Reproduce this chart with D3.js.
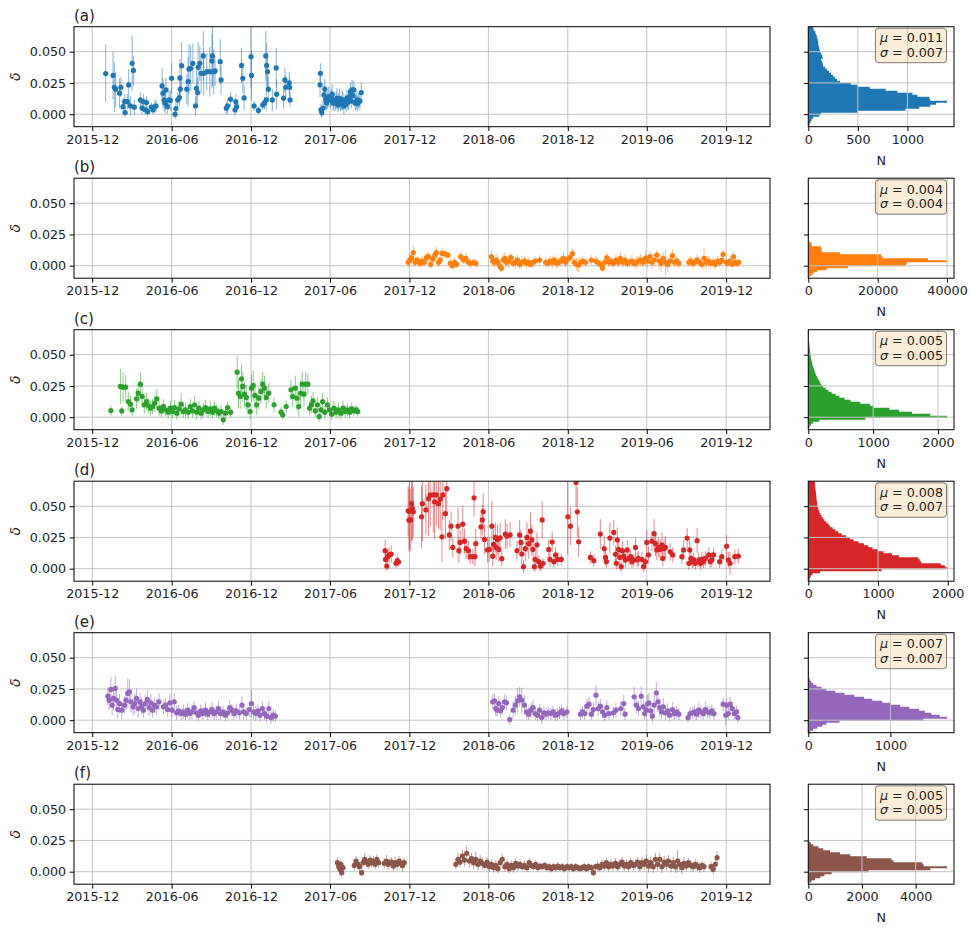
<!DOCTYPE html>
<html>
<head>
<meta charset="utf-8">
<script src="https://cdn.jsdelivr.net/npm/d3@7"></script>
<style>
  body { margin: 0; background: #fff; }
  text { font-family: "DejaVu Sans", sans-serif; }
</style>
</head>
<body>
<div id="chart"></div>
<script>
// ---- data ----
var panelLabels = ['(a)', '(b)', '(c)', '(d)', '(e)', '(f)'];
var colors = ['#1f77b4', '#ff7f0e', '#2ca02c', '#d62728', '#9467bd', '#8c564b'];
var dateTicks = ['2015-12', '2016-06', '2016-12', '2017-06', '2017-12', '2018-06', '2018-12', '2019-06', '2019-12'];
var yTicks = [0, 0.025, 0.05];

// [date, delta, error]
var seriesA = [
  ['2016-01-01',0.0325,0.023],['2016-01-18',0.031,0.019],['2016-01-21',0.0215,0.02],['2016-01-24',0.020,0.014],
  ['2016-02-02',0.0168,0.012],['2016-02-05',0.0215,0.008],['2016-02-10',0.006,0.007],['2016-02-14',0.010,0.006],
  ['2016-02-15',0.0013,0.004],['2016-02-20',0.010,0.006],['2016-02-23',0.0234,0.013],['2016-02-27',0.0066,0.008],
  ['2016-03-02',0.0407,0.022],['2016-03-05',0.035,0.012],['2016-03-07',0.0056,0.006],['2016-03-21',0.0114,0.006],
  ['2016-03-25',0.0048,0.005],['2016-03-28',0.010,0.006],['2016-04-01',0.0035,0.004],['2016-04-04',0.0093,0.005],
  ['2016-04-07',0.002,0.004],['2016-04-15',0.0056,0.004],['2016-04-19',0.0035,0.004],['2016-04-23',0.006,0.005],
  ['2016-04-26',0.0066,0.005],['2016-05-10',0.0226,0.014],['2016-05-12',0.0168,0.012],['2016-05-15',0.0114,0.009],
  ['2016-05-17',0.0088,0.008],['2016-05-19',0.0194,0.01],['2016-05-22',0.006,0.006],['2016-05-26',0.0114,0.007],
  ['2016-05-29',0.011,0.008],['2016-06-01',0.0287,0.012],['2016-06-09',0.0,0.004],['2016-06-11',0.0045,0.005],
  ['2016-06-15',0.0114,0.006],['2016-06-19',0.0133,0.007],['2016-06-20',0.029,0.015],['2016-06-21',0.020,0.01],
  ['2016-06-24',0.0388,0.019],['2016-07-06',0.020,0.012],['2016-07-09',0.026,0.02],['2016-07-11',0.036,0.02],
  ['2016-07-15',0.0367,0.018],['2016-07-20',0.0407,0.016],['2016-07-26',0.0066,0.008],['2016-07-28',0.0207,0.015],
  ['2016-07-31',0.0173,0.012],['2016-08-01',0.0375,0.02],['2016-08-05',0.0407,0.014],['2016-08-08',0.0327,0.016],
  ['2016-08-13',0.0466,0.02],['2016-08-14',0.0327,0.018],['2016-08-21',0.034,0.015],['2016-08-28',0.034,0.02],
  ['2016-09-02',0.0426,0.022],['2016-09-03',0.0466,0.024],['2016-09-06',0.034,0.018],['2016-09-09',0.0346,0.012],
  ['2016-09-21',0.042,0.018],['2016-09-23',0.0274,0.012],['2016-10-05',0.0048,0.005],['2016-10-08',0.0066,0.006],
  ['2016-10-15',0.012,0.006],['2016-10-25',0.0035,0.005],['2016-10-27',0.010,0.006],['2016-10-29',0.006,0.005],
  ['2016-11-09',0.039,0.014],['2016-11-12',0.0287,0.012],['2016-11-15',0.013,0.01],['2016-12-01',0.046,0.025],
  ['2016-12-02',0.031,0.02],['2016-12-08',0.0066,0.004],['2016-12-18',0.003,0.003],['2016-12-28',0.0074,0.004],
  ['2017-01-01',0.0088,0.005],['2017-01-04',0.0466,0.02],['2017-01-05',0.0114,0.008],['2017-01-06',0.039,0.018],
  ['2017-01-08',0.034,0.015],['2017-01-10',0.020,0.01],['2017-01-19',0.0114,0.009],['2017-01-28',0.037,0.016],
  ['2017-01-29',0.016,0.012],['2017-02-14',0.0128,0.008],['2017-02-17',0.0274,0.01],['2017-02-19',0.0215,0.01],
  ['2017-02-27',0.025,0.009],['2017-02-28',0.0215,0.008],['2017-03-01',0.0114,0.006],['2017-05-09',0.0234,0.01],
  ['2017-05-10',0.0327,0.008],['2017-05-11',0.0035,0.005],['2017-05-13',0.0013,0.004],['2017-05-16',0.0048,0.006],
  ['2017-05-18',0.0154,0.008],['2017-05-20',0.020,0.008],['2017-05-22',0.012,0.007],['2017-05-24',0.009,0.006],
  ['2017-05-26',0.0114,0.007],['2017-05-29',0.014,0.008],['2017-06-02',0.0114,0.007],['2017-06-04',0.013,0.007],
  ['2017-06-06',0.016,0.008],['2017-06-08',0.009,0.006],['2017-06-10',0.010,0.007],['2017-06-13',0.0088,0.006],
  ['2017-06-15',0.011,0.007],['2017-06-17',0.0128,0.008],['2017-06-19',0.0075,0.006],['2017-06-21',0.010,0.007],
  ['2017-06-23',0.0125,0.008],['2017-06-25',0.0082,0.006],['2017-06-27',0.009,0.006],['2017-06-29',0.0114,0.008],
  ['2017-07-01',0.0105,0.007],['2017-07-03',0.0066,0.007],['2017-07-06',0.010,0.006],['2017-07-08',0.008,0.006],
  ['2017-07-10',0.0128,0.007],['2017-07-12',0.0095,0.006],['2017-07-14',0.0114,0.008],['2017-07-16',0.014,0.007],
  ['2017-07-18',0.018,0.007],['2017-07-20',0.0105,0.006],['2017-07-22',0.0194,0.008],['2017-07-24',0.015,0.007],
  ['2017-07-26',0.0194,0.007],['2017-07-29',0.0088,0.006],['2017-07-31',0.0095,0.006],['2017-08-02',0.0114,0.007],
  ['2017-08-04',0.0085,0.006],['2017-08-06',0.011,0.006],['2017-08-09',0.0105,0.007],['2017-08-12',0.0173,0.008]
];

var seriesB = [
  ['2017-11-28',0.0027,0.004],['2017-12-02',0.0045,0.005],['2017-12-06',0.0064,0.004],['2017-12-10',0.0104,0.006],
  ['2017-12-14',0.0027,0.004],['2017-12-18',0.0045,0.003],['2017-12-22',0.0032,0.004],['2017-12-26',0.0019,0.003],
  ['2017-12-30',0.0037,0.004],['2018-01-04',0.0027,0.003],['2018-01-09',0.0064,0.004],['2018-01-14',0.0072,0.004],
  ['2018-01-19',0.0011,0.003],['2018-01-24',0.0053,0.004],['2018-01-29',0.0085,0.004],['2018-02-01',0.0104,0.005],
  ['2018-02-06',0.0027,0.004],['2018-02-10',0.0045,0.003],['2018-02-14',0.0099,0.004],['2018-02-18',0.0096,0.003],
  ['2018-02-23',0.0091,0.004],['2018-02-28',0.0085,0.003],['2018-03-05',0.0019,0.004],['2018-03-10',0.0,0.003],
  ['2018-03-15',0.0027,0.004],['2018-03-20',0.0011,0.003],['2018-03-29',0.0072,0.004],['2018-04-05',0.0045,0.003],
  ['2018-04-10',0.0059,0.004],['2018-04-16',0.0027,0.003],['2018-04-21',0.0019,0.004],['2018-04-28',0.0027,0.003],
  ['2018-05-03',0.0019,0.004],['2018-06-08',0.0072,0.005],['2018-06-11',0.0037,0.004],['2018-06-15',0.0027,0.004],
  ['2018-06-19',0.0045,0.005],['2018-06-23',0.0027,0.004],['2018-06-28',-0.0008,0.004],['2018-07-01',-0.002,0.003],
  ['2018-07-05',0.0045,0.004],['2018-07-09',0.0059,0.005],['2018-07-13',0.0027,0.004],['2018-07-18',0.0037,0.005],
  ['2018-07-23',0.0064,0.004],['2018-07-28',0.0019,0.004],['2018-08-02',0.0027,0.005],['2018-08-07',0.0045,0.004],
  ['2018-08-12',0.0011,0.004],['2018-08-17',0.0027,0.005],['2018-08-23',0.0037,0.004],['2018-08-28',0.0019,0.004],
  ['2018-09-02',0.0027,0.004],['2018-09-07',0.0011,0.003],['2018-09-12',0.0027,0.004],['2018-09-17',0.0037,0.004],
  ['2018-09-27',0.0045,0.004],['2018-10-11',0.0027,0.004],['2018-10-16',0.0019,0.004],['2018-10-21',0.0037,0.004],
  ['2018-10-26',0.0027,0.005],['2018-10-31',0.0045,0.004],['2018-11-05',0.0019,0.004],['2018-11-10',0.0027,0.004],
  ['2018-11-15',0.0037,0.004],['2018-11-21',0.0059,0.005],['2018-11-26',0.0027,0.004],['2018-12-01',0.0053,0.004],
  ['2018-12-06',0.0064,0.005],['2018-12-12',0.0096,0.004],['2018-12-16',0.0027,0.004],['2018-12-21',0.0011,0.005],
  ['2018-12-26',0.0005,0.006],['2018-12-31',0.0027,0.004],['2019-01-05',0.0037,0.004],['2019-01-11',0.0027,0.004],
  ['2019-01-24',0.0045,0.004],['2019-02-03',0.0037,0.004],['2019-02-08',0.0027,0.004],['2019-02-14',0.0011,0.004],
  ['2019-02-19',-0.002,0.003],['2019-02-24',0.0027,0.004],['2019-03-01',0.0064,0.004],['2019-03-06',0.0027,0.004],
  ['2019-03-11',0.0037,0.004],['2019-03-16',0.0019,0.004],['2019-03-22',0.0045,0.004],['2019-03-27',0.0027,0.004],
  ['2019-04-01',0.0059,0.005],['2019-04-07',0.0027,0.004],['2019-04-12',0.0045,0.005],['2019-04-17',0.0019,0.004],
  ['2019-04-22',0.0027,0.004],['2019-04-28',0.0037,0.005],['2019-05-03',0.0019,0.004],['2019-05-08',0.0027,0.005],
  ['2019-05-13',0.0037,0.004],['2019-05-18',0.0045,0.005],['2019-05-23',0.0027,0.004],['2019-05-29',0.0059,0.006],
  ['2019-06-03',0.0037,0.005],['2019-06-08',0.0072,0.005],['2019-06-13',0.0027,0.006],['2019-06-18',0.0045,0.005],
  ['2019-06-24',0.0085,0.004],['2019-06-29',0.0037,0.006],['2019-07-04',0.0019,0.007],['2019-07-09',0.0059,0.005],
  ['2019-07-14',0.0027,0.01],['2019-07-19',0.0011,0.006],['2019-07-25',0.0037,0.005],['2019-07-30',0.008,0.005],
  ['2019-08-04',0.0027,0.004],['2019-08-09',0.0037,0.004],['2019-08-14',0.0019,0.004],['2019-09-06',0.0027,0.004],
  ['2019-09-10',0.0037,0.004],['2019-09-15',0.0019,0.004],['2019-09-20',0.0027,0.004],['2019-09-25',0.0045,0.004],
  ['2019-10-01',0.0027,0.004],['2019-10-06',0.0011,0.004],['2019-10-11',0.0059,0.008],['2019-10-16',0.0027,0.005],
  ['2019-10-21',0.0037,0.004],['2019-10-26',0.0019,0.004],['2019-11-01',0.0027,0.004],['2019-11-06',0.0011,0.004],
  ['2019-11-11',0.0037,0.004],['2019-11-16',0.0027,0.004],['2019-11-21',0.0045,0.004],['2019-11-24',0.0091,0.004],
  ['2019-12-01',0.0027,0.004],['2019-12-05',0.0019,0.003],['2019-12-10',0.0037,0.004],['2019-12-15',0.0011,0.003],
  ['2019-12-18',0.0072,0.004],['2019-12-22',0.0027,0.003],['2019-12-26',0.0019,0.003],['2019-12-30',0.0027,0.003]
];

var seriesC = [
  ['2016-01-13',0.0053,0.004],['2016-02-04',0.0246,0.014],['2016-02-07',0.005,0.004],['2016-02-10',0.024,0.012],
  ['2016-02-16',0.024,0.01],['2016-02-22',0.0125,0.008],['2016-02-27',0.0104,0.007],['2016-03-02',0.0059,0.005],
  ['2016-03-12',0.0147,0.008],['2016-03-16',0.0192,0.008],['2016-03-21',0.0264,0.01],['2016-03-25',0.0166,0.009],
  ['2016-03-30',0.0099,0.007],['2016-04-04',0.0125,0.007],['2016-04-09',0.0091,0.006],['2016-04-13',0.0072,0.006],
  ['2016-04-18',0.0085,0.006],['2016-04-23',0.0112,0.007],['2016-04-28',0.0147,0.008],['2016-05-03',0.0072,0.006],
  ['2016-05-08',0.005,0.005],['2016-05-13',0.0085,0.006],['2016-05-18',0.0059,0.005],['2016-05-24',0.004,0.005],
  ['2016-05-29',0.0072,0.006],['2016-06-03',0.0045,0.005],['2016-06-08',0.0077,0.006],['2016-06-13',0.0032,0.005],
  ['2016-06-18',0.0067,0.006],['2016-06-23',0.0104,0.009],['2016-06-28',0.0045,0.005],['2016-07-03',0.0059,0.006],
  ['2016-07-09',0.004,0.005],['2016-07-14',0.0085,0.006],['2016-07-19',0.005,0.005],['2016-07-24',0.0099,0.007],
  ['2016-07-29',0.004,0.006],['2016-08-03',0.0072,0.006],['2016-08-08',0.0032,0.005],['2016-08-13',0.0059,0.006],
  ['2016-08-18',0.0077,0.006],['2016-08-24',0.0045,0.005],['2016-08-29',0.0067,0.006],['2016-09-03',0.004,0.005],
  ['2016-09-08',0.0072,0.006],['2016-09-13',0.005,0.005],['2016-09-18',0.0032,0.005],['2016-09-23',0.0045,0.005],
  ['2016-09-28',-0.0021,0.004],['2016-10-03',0.0032,0.004],['2016-10-08',0.0077,0.005],['2016-10-15',0.004,0.004],
  ['2016-10-30',0.036,0.013],['2016-11-02',0.0192,0.012],['2016-11-06',0.0166,0.01],['2016-11-09',0.0307,0.012],
  ['2016-11-12',0.0246,0.012],['2016-11-16',0.0184,0.01],['2016-11-20',0.0158,0.01],['2016-11-24',0.0099,0.008],
  ['2016-11-29',0.0045,0.006],['2016-12-02',0.0232,0.011],['2016-12-06',0.0254,0.012],['2016-12-10',0.0174,0.01],
  ['2016-12-14',0.0099,0.008],['2016-12-19',0.0152,0.009],['2016-12-24',0.0206,0.01],['2016-12-28',0.0264,0.01],
  ['2017-01-01',0.0232,0.01],['2017-01-05',0.0158,0.009],['2017-01-11',0.0192,0.008],['2017-01-23',0.0099,0.006],
  ['2017-02-08',0.004,0.004],['2017-02-12',0.0019,0.004],['2017-02-20',0.0085,0.005],['2017-03-03',0.0219,0.008],
  ['2017-03-07',0.0166,0.008],['2017-03-13',0.0232,0.01],['2017-03-17',0.0152,0.01],['2017-03-21',0.0085,0.008],
  ['2017-03-25',0.0192,0.01],['2017-03-29',0.0264,0.01],['2017-04-02',0.0184,0.01],['2017-04-06',0.0264,0.01],
  ['2017-04-11',0.0264,0.008],['2017-04-15',0.0072,0.006],['2017-04-19',0.0099,0.007],['2017-04-23',0.0131,0.007],
  ['2017-04-28',0.005,0.005],['2017-05-03',0.0099,0.006],['2017-05-07',0.0005,0.004],['2017-05-11',0.0059,0.005],
  ['2017-05-15',0.0125,0.007],['2017-05-20',0.004,0.005],['2017-05-26',0.0099,0.006],['2017-05-31',0.0059,0.005],
  ['2017-06-05',0.0024,0.005],['2017-06-10',0.0072,0.006],['2017-06-15',0.004,0.005],['2017-06-20',0.0059,0.006],
  ['2017-06-26',0.0032,0.005],['2017-07-01',0.0072,0.006],['2017-07-06',0.0045,0.005],['2017-07-11',0.0059,0.005],
  ['2017-07-16',0.004,0.005],['2017-07-21',0.0067,0.005],['2017-07-26',0.005,0.004],['2017-07-31',0.0059,0.004],
  ['2017-08-04',0.0045,0.004]
];

var seriesD = [
  ['2017-10-06',0.0144,0.009],['2017-10-07',0.0074,0.006],['2017-10-10',0.002,0.004],['2017-10-12',0.0096,0.006],
  ['2017-10-15',0.011,0.006],['2017-10-20',0.0117,0.007],['2017-10-31',0.0043,0.004],['2017-11-03',0.0064,0.004],
  ['2017-11-06',0.0053,0.004],['2017-11-28',0.0463,0.02],['2017-11-30',0.0388,0.025],['2017-12-01',0.046,0.03],
  ['2017-12-04',0.039,0.025],['2017-12-06',0.052,0.03],['2017-12-08',0.048,0.025],['2017-12-10',0.0455,0.02],
  ['2017-12-29',0.0415,0.025],['2017-12-31',0.052,0.03],['2018-01-08',0.047,0.02],['2018-01-14',0.056,0.03],
  ['2018-01-18',0.059,0.025],['2018-01-25',0.059,0.03],['2018-01-28',0.0535,0.03],['2018-02-01',0.059,0.025],
  ['2018-02-06',0.052,0.02],['2018-02-10',0.0556,0.025],['2018-02-14',0.0255,0.02],['2018-02-16',0.059,0.02],
  ['2018-02-22',0.044,0.02],['2018-02-25',0.064,0.02],['2018-03-03',0.027,0.012],['2018-03-07',0.034,0.012],
  ['2018-03-11',0.017,0.008],['2018-03-23',0.034,0.015],['2018-03-25',0.0144,0.01],['2018-03-28',0.021,0.01],
  ['2018-04-03',0.0356,0.015],['2018-04-07',0.022,0.01],['2018-04-11',0.016,0.008],['2018-04-16',0.0144,0.008],
  ['2018-04-20',0.0096,0.006],['2018-04-26',0.0096,0.006],['2018-04-29',0.0567,0.015],['2018-05-01',0.0096,0.008],
  ['2018-05-03',0.020,0.012],['2018-05-15',0.0335,0.01],['2018-05-18',0.039,0.012],['2018-05-20',0.0455,0.015],
  ['2018-05-23',0.0234,0.012],['2018-05-30',0.015,0.01],['2018-06-03',0.0154,0.01],['2018-06-09',0.034,0.02],
  ['2018-06-11',0.010,0.008],['2018-06-13',0.0194,0.012],['2018-06-17',0.025,0.012],['2018-06-19',0.017,0.01],
  ['2018-06-22',0.0234,0.012],['2018-06-25',0.0154,0.01],['2018-06-28',0.0247,0.012],['2018-07-02',0.008,0.006],
  ['2018-07-10',0.0277,0.012],['2018-07-14',0.026,0.01],['2018-07-21',0.027,0.01],['2018-08-06',0.0144,0.008],
  ['2018-08-12',0.027,0.012],['2018-08-15',0.021,0.01],['2018-08-17',0.0117,0.008],['2018-08-21',0.0016,0.005],
  ['2018-08-25',0.016,0.01],['2018-08-29',0.025,0.012],['2018-09-02',0.020,0.012],['2018-09-06',0.030,0.015],
  ['2018-09-09',0.023,0.012],['2018-09-12',0.0154,0.01],['2018-09-15',0.0016,0.004],['2018-09-17',0.0074,0.006],
  ['2018-09-21',0.019,0.01],['2018-09-25',0.0056,0.005],['2018-09-29',0.002,0.004],['2018-10-03',0.039,0.015],
  ['2018-10-05',0.0043,0.004],['2018-10-18',0.0154,0.008],['2018-10-21',0.0074,0.006],['2018-10-26',0.0213,0.008],
  ['2018-10-30',0.0056,0.005],['2018-11-03',0.011,0.006],['2018-11-08',0.0074,0.005],['2018-11-16',0.0074,0.005],
  ['2018-12-01',0.0415,0.03],['2018-12-07',0.034,0.015],['2018-12-20',0.069,0.02],['2018-12-23',0.0455,0.02],
  ['2018-12-26',0.0215,0.012],['2019-01-22',0.009,0.005],['2019-01-30',0.0064,0.005],['2019-02-14',0.0277,0.012],
  ['2019-02-23',0.016,0.01],['2019-02-26',0.009,0.006],['2019-02-28',0.0056,0.005],['2019-03-08',0.0245,0.012],
  ['2019-03-17',0.029,0.01],['2019-03-21',0.0115,0.007],['2019-03-23',0.0043,0.005],['2019-03-25',0.023,0.01],
  ['2019-03-28',0.0154,0.008],['2019-03-31',0.009,0.006],['2019-04-03',0.0016,0.004],['2019-04-06',0.0144,0.008],
  ['2019-04-09',0.010,0.006],['2019-04-13',0.007,0.006],['2019-04-17',0.015,0.008],['2019-04-21',0.0082,0.006],
  ['2019-04-25',0.0096,0.006],['2019-04-28',0.0056,0.005],['2019-05-02',0.007,0.005],['2019-05-06',0.017,0.008],
  ['2019-05-10',0.007,0.006],['2019-05-13',0.0082,0.006],['2019-05-21',0.0074,0.006],['2019-05-25',0.0016,0.004],
  ['2019-05-29',0.0056,0.005],['2019-06-01',0.021,0.01],['2019-06-05',0.011,0.007],['2019-06-13',0.022,0.008],
  ['2019-06-18',0.028,0.012],['2019-06-21',0.020,0.01],['2019-06-24',0.015,0.008],['2019-06-28',0.017,0.008],
  ['2019-07-02',0.0154,0.008],['2019-07-06',0.019,0.01],['2019-07-08',0.0082,0.006],['2019-07-11',0.016,0.008],
  ['2019-07-14',0.017,0.009],['2019-07-25',0.0135,0.007],['2019-07-31',0.011,0.006],['2019-08-21',0.0096,0.006],
  ['2019-08-25',0.015,0.008],['2019-09-02',0.0245,0.008],['2019-09-06',0.0043,0.005],['2019-09-08',0.015,0.008],
  ['2019-09-11',0.0082,0.006],['2019-09-14',0.0056,0.005],['2019-09-17',0.007,0.006],['2019-09-21',0.0043,0.005],
  ['2019-09-25',0.0224,0.01],['2019-09-29',0.007,0.006],['2019-10-03',0.0043,0.005],['2019-10-06',0.0074,0.006],
  ['2019-10-10',0.0056,0.005],['2019-10-14',0.0082,0.006],['2019-10-22',0.011,0.006],['2019-10-25',0.0056,0.005],
  ['2019-10-29',0.007,0.006],['2019-11-02',0.011,0.006],['2019-11-16',0.0056,0.005],['2019-11-21',0.0096,0.006],
  ['2019-12-02',0.018,0.009],['2019-12-06',0.007,0.006],['2019-12-10',0.0043,0.009],['2019-12-21',0.0096,0.006],
  ['2019-12-29',0.010,0.006]
];

var seriesE = [
  ['2016-01-06',0.0192,0.007],['2016-01-09',0.016,0.008],['2016-01-13',0.0246,0.01],['2016-01-16',0.012,0.008],
  ['2016-01-19',0.0174,0.009],['2016-01-23',0.0254,0.01],['2016-01-26',0.016,0.008],['2016-01-29',0.0085,0.007],
  ['2016-02-02',0.0133,0.008],['2016-02-07',0.008,0.007],['2016-02-13',0.012,0.007],['2016-02-17',0.016,0.008],
  ['2016-02-21',0.0214,0.012],['2016-02-25',0.0227,0.01],['2016-02-28',0.0147,0.008],['2016-03-04',0.0107,0.007],
  ['2016-03-08',0.0133,0.008],['2016-03-12',0.0174,0.008],['2016-03-16',0.0093,0.007],['2016-03-20',0.0147,0.007],
  ['2016-03-24',0.0112,0.007],['2016-03-28',0.008,0.006],['2016-04-01',0.0133,0.007],['2016-04-06',0.0166,0.007],
  ['2016-04-10',0.0101,0.007],['2016-04-14',0.0139,0.007],['2016-04-18',0.008,0.006],['2016-04-22',0.012,0.006],
  ['2016-04-27',0.0107,0.006],['2016-05-03',0.0147,0.007],['2016-05-13',0.0107,0.006],['2016-05-18',0.012,0.006],
  ['2016-05-23',0.0085,0.006],['2016-05-28',0.0139,0.007],['2016-06-02',0.008,0.006],['2016-06-07',0.0147,0.007],
  ['2016-06-12',0.0059,0.006],['2016-06-17',0.0075,0.005],['2016-06-23',0.0053,0.005],['2016-06-28',0.0067,0.006],
  ['2016-07-03',0.0048,0.005],['2016-07-08',0.008,0.006],['2016-07-13',0.0053,0.005],['2016-07-18',0.0067,0.006],
  ['2016-07-23',0.0101,0.005],['2016-07-28',0.0059,0.005],['2016-08-02',0.004,0.005],['2016-08-07',0.0075,0.005],
  ['2016-08-12',0.0053,0.005],['2016-08-18',0.008,0.006],['2016-08-23',0.0048,0.005],['2016-08-28',0.0067,0.005],
  ['2016-09-02',0.0085,0.006],['2016-09-07',0.0053,0.005],['2016-09-12',0.0067,0.005],['2016-09-17',0.0093,0.006],
  ['2016-09-22',0.0053,0.005],['2016-09-27',0.0067,0.005],['2016-10-03',0.004,0.005],['2016-10-08',0.0059,0.005],
  ['2016-10-13',0.0101,0.006],['2016-10-18',0.008,0.005],['2016-10-23',0.0053,0.005],['2016-10-28',0.0075,0.006],
  ['2016-11-04',0.0059,0.005],['2016-11-10',0.012,0.007],['2016-11-14',0.0067,0.006],['2016-11-20',0.0053,0.005],
  ['2016-11-27',0.0085,0.006],['2016-12-02',0.0133,0.011],['2016-12-07',0.0067,0.006],['2016-12-12',0.0053,0.006],
  ['2016-12-17',0.0075,0.006],['2016-12-22',0.004,0.005],['2016-12-27',0.0093,0.006],['2017-01-01',0.0053,0.005],
  ['2017-01-06',0.0032,0.005],['2017-01-11',0.0093,0.006],['2017-01-16',0.0021,0.005],['2017-01-21',0.004,0.005],
  ['2017-01-26',0.0032,0.005],
  ['2018-06-11',0.0147,0.006],['2018-06-15',0.0155,0.006],['2018-06-18',0.0093,0.006],['2018-06-21',0.008,0.005],
  ['2018-06-25',0.0133,0.006],['2018-06-29',0.0075,0.005],['2018-07-03',0.0101,0.006],['2018-07-08',0.0147,0.006],
  ['2018-07-13',0.0139,0.006],['2018-07-20',0.0005,0.004],['2018-07-28',0.008,0.007],['2018-08-02',0.012,0.008],
  ['2018-08-07',0.0155,0.01],['2018-08-12',0.0187,0.008],['2018-08-17',0.016,0.01],['2018-08-23',0.012,0.008],
  ['2018-08-28',0.0067,0.006],['2018-09-02',0.0048,0.005],['2018-09-07',0.008,0.006],['2018-09-12',0.0101,0.006],
  ['2018-09-17',0.0053,0.005],['2018-09-22',0.004,0.005],['2018-09-27',0.008,0.005],['2018-10-02',0.0021,0.005],
  ['2018-10-07',0.0059,0.005],['2018-10-12',0.0048,0.005],['2018-10-17',0.0059,0.005],['2018-10-23',0.0053,0.005],
  ['2018-10-28',0.0067,0.005],['2018-11-02',0.004,0.005],['2018-11-07',0.0048,0.005],['2018-11-12',0.0059,0.005],
  ['2018-11-17',0.0075,0.005],['2018-11-22',0.0053,0.005],['2018-11-29',0.0067,0.005],['2018-12-30',0.0048,0.005],
  ['2019-01-04',0.0067,0.005],['2019-01-09',0.0053,0.005],['2019-01-14',0.0112,0.006],['2019-01-19',0.0128,0.006],
  ['2019-01-24',0.0048,0.005],['2019-01-29',0.0085,0.006],['2019-02-04',0.02,0.008],['2019-02-09',0.0093,0.006],
  ['2019-02-14',0.0112,0.006],['2019-02-19',0.0067,0.005],['2019-02-24',0.004,0.005],['2019-03-01',0.0101,0.006],
  ['2019-03-06',0.0053,0.005],['2019-03-16',0.0059,0.005],['2019-03-22',0.008,0.006],['2019-04-02',0.0093,0.006],
  ['2019-04-09',0.0133,0.007],['2019-04-12',0.0048,0.005],['2019-05-03',0.0187,0.008],['2019-05-08',0.012,0.007],
  ['2019-05-13',0.0093,0.006],['2019-05-19',0.0192,0.008],['2019-05-24',0.0107,0.006],['2019-05-27',0.0053,0.005],
  ['2019-05-31',0.008,0.006],['2019-06-03',0.0133,0.007],['2019-06-06',0.0139,0.008],['2019-06-10',0.0075,0.006],
  ['2019-06-14',0.0032,0.005],['2019-06-18',0.012,0.008],['2019-06-23',0.0219,0.009],['2019-06-27',0.0147,0.008],
  ['2019-07-01',0.0101,0.007],['2019-07-05',0.0067,0.006],['2019-07-09',0.0107,0.007],['2019-07-14',0.0059,0.006],
  ['2019-07-19',0.0075,0.006],['2019-07-24',0.004,0.005],['2019-07-30',0.0085,0.006],['2019-08-04',0.0053,0.005],
  ['2019-08-09',0.0067,0.005],['2019-08-14',0.0048,0.005],['2019-09-04',0.0021,0.004],['2019-09-09',0.0053,0.005],
  ['2019-09-14',0.0059,0.005],['2019-09-19',0.0067,0.005],['2019-09-24',0.0048,0.005],['2019-09-29',0.008,0.006],
  ['2019-10-04',0.0067,0.005],['2019-10-09',0.0053,0.005],['2019-10-14',0.0085,0.006],['2019-10-19',0.0067,0.005],
  ['2019-10-24',0.0059,0.005],['2019-10-29',0.0075,0.005],['2019-11-03',0.0053,0.005],['2019-11-24',0.0128,0.006],
  ['2019-11-30',0.004,0.008],['2019-12-02',0.012,0.006],['2019-12-06',0.0053,0.005],['2019-12-10',0.0128,0.006],
  ['2019-12-15',0.0093,0.006],['2019-12-20',0.0053,0.005],['2019-12-25',0.0067,0.005],['2019-12-28',0.0021,0.004]
];

var seriesF = [
  ['2017-06-18',0.0072,0.004],['2017-06-21',0.004,0.004],['2017-06-24',0.0019,0.005],['2017-06-26',0.0059,0.004],
  ['2017-06-28',-0.0008,0.004],['2017-07-01',0.0032,0.004],['2017-07-27',0.005,0.004],['2017-07-31',0.0085,0.004],
  ['2017-08-04',0.0059,0.004],['2017-08-08',0.004,0.004],['2017-08-13',-0.0008,0.003],['2017-08-16',0.0072,0.004],
  ['2017-08-20',0.0099,0.005],['2017-08-24',0.0077,0.004],['2017-08-28',0.0059,0.004],['2017-09-01',0.0093,0.004],
  ['2017-09-05',0.0072,0.004],['2017-09-09',0.0085,0.004],['2017-09-13',0.0059,0.004],['2017-09-17',0.0099,0.004],
  ['2017-09-21',0.0072,0.004],['2017-10-04',0.0067,0.004],['2017-10-09',0.0085,0.005],['2017-10-13',0.0059,0.004],
  ['2017-10-17',0.0072,0.004],['2017-10-21',0.0077,0.004],['2017-10-25',0.0045,0.004],['2017-10-29',0.0072,0.005],
  ['2017-11-03',0.0059,0.004],['2017-11-07',0.0085,0.004],['2017-11-11',0.0067,0.004],['2017-11-15',0.005,0.005],
  ['2017-11-19',0.0072,0.004],
  ['2018-03-18',0.0059,0.004],['2018-03-23',0.0099,0.005],['2018-03-28',0.0077,0.004],['2018-04-02',0.0125,0.005],
  ['2018-04-07',0.0093,0.005],['2018-04-12',0.0147,0.006],['2018-04-18',0.0085,0.005],['2018-04-23',0.0104,0.005],
  ['2018-04-28',0.0072,0.005],['2018-05-03',0.0099,0.006],['2018-05-08',0.0059,0.005],['2018-05-13',0.0085,0.005],
  ['2018-05-18',0.0067,0.005],['2018-05-24',0.005,0.004],['2018-05-29',0.0077,0.004],['2018-06-03',0.004,0.004],
  ['2018-06-08',0.0059,0.004],['2018-06-13',0.0032,0.004],['2018-06-18',0.005,0.004],['2018-06-23',0.0024,0.004],
  ['2018-06-28',0.0072,0.004],['2018-07-03',0.0099,0.004],['2018-07-09',0.004,0.004],['2018-07-14',0.0059,0.004],
  ['2018-07-19',0.0024,0.004],['2018-07-24',0.005,0.004],['2018-07-29',0.0032,0.004],['2018-08-03',0.0067,0.004],
  ['2018-08-08',0.0045,0.004],['2018-08-13',0.0059,0.004],['2018-08-18',0.004,0.003],['2018-08-23',0.005,0.004],
  ['2018-08-29',0.0032,0.003],['2018-09-03',0.0072,0.004],['2018-09-08',0.005,0.003],['2018-09-13',0.004,0.003],
  ['2018-09-18',0.0059,0.003],['2018-09-23',0.0032,0.003],['2018-09-28',0.0045,0.003],['2018-10-03',0.004,0.003],
  ['2018-10-09',0.005,0.003],['2018-10-14',0.0032,0.003],['2018-10-19',0.004,0.003],['2018-10-24',0.0024,0.003],
  ['2018-10-29',0.004,0.003],['2018-11-03',0.0032,0.003],['2018-11-08',0.0045,0.003],['2018-11-13',0.0032,0.003],
  ['2018-11-18',0.004,0.003],['2018-11-23',0.0024,0.003],['2018-11-29',0.004,0.003],['2018-12-04',0.0032,0.003],
  ['2018-12-09',0.004,0.003],['2018-12-14',0.0024,0.003],['2018-12-19',0.004,0.003],['2018-12-24',0.0032,0.003],
  ['2018-12-29',0.0024,0.003],['2019-01-03',0.0032,0.003],['2019-01-08',0.004,0.003],['2019-01-13',0.0024,0.003],
  ['2019-01-18',0.004,0.003],['2019-01-24',0.0032,0.003],['2019-01-29',-0.0008,0.003],['2019-02-03',0.004,0.003],
  ['2019-02-08',0.0045,0.004],['2019-02-13',0.0032,0.003],['2019-02-18',0.0059,0.004],['2019-02-23',0.0045,0.004],
  ['2019-02-28',0.0072,0.004],['2019-03-05',0.004,0.004],['2019-03-10',0.0059,0.004],['2019-03-15',0.0045,0.004],
  ['2019-03-21',0.0067,0.004],['2019-03-26',0.004,0.004],['2019-03-31',0.0059,0.004],['2019-04-05',0.0077,0.004],
  ['2019-04-10',0.0045,0.004],['2019-04-15',0.0059,0.004],['2019-04-20',0.004,0.004],['2019-04-25',0.0072,0.004],
  ['2019-05-01',0.005,0.004],['2019-05-06',0.0059,0.004],['2019-05-11',0.0077,0.004],['2019-05-16',0.004,0.004],
  ['2019-05-21',0.0072,0.005],['2019-05-26',0.0059,0.005],['2019-05-31',0.0085,0.005],['2019-06-05',0.0045,0.005],
  ['2019-06-10',0.0072,0.005],['2019-06-16',0.004,0.005],['2019-06-21',0.0099,0.005],['2019-06-26',0.0059,0.005],
  ['2019-07-01',0.0099,0.005],['2019-07-06',0.004,0.005],['2019-07-11',0.0077,0.005],['2019-07-16',0.0059,0.005],
  ['2019-07-21',0.0085,0.005],['2019-07-27',0.0045,0.005],['2019-08-01',0.0072,0.005],['2019-08-06',0.004,0.005],
  ['2019-08-11',0.0085,0.009],['2019-08-16',0.0059,0.005],['2019-08-21',0.0032,0.005],['2019-08-26',0.0067,0.005],
  ['2019-08-31',0.0045,0.004],['2019-09-05',0.0072,0.004],['2019-09-11',0.005,0.004],['2019-09-16',0.004,0.004],
  ['2019-09-21',0.0059,0.004],['2019-09-26',0.0045,0.004],['2019-10-01',0.0032,0.004],['2019-10-06',0.005,0.004],
  ['2019-10-11',0.004,0.004],['2019-10-27',0.004,0.004],['2019-11-01',0.0019,0.004],['2019-11-06',0.0059,0.004],
  ['2019-11-10',0.0112,0.005]
];

// histograms: counts per bin, bins start at -0.01 with width 0.0016
var histBinStart = -0.01;
var histBinWidth = 0.0016;
var histA = [10,15,25,35,50,110,130,500,980,1120,1230,1290,1400,1230,1220,1100,1050,900,780,620,
  500,430,320,290,270,250,230,210,190,170,150,145,140,130,145,140,130,120,115,110,
  105,100,100,95,90,85,75,70,55,50];
var histB = [300,900,1500,2500,5300,11500,28200,28400,40000,34500,21400,21000,9100,3900,3800,3700,1000,900,300,120,
  60,30,15,8,4,2,1,0,0,0,0,0,0,0,0,0,0,0,0,0,
  0,0,0,0,0,0,0,0,0,0];
var histC = [10,20,40,70,170,880,2140,1880,1600,1400,1250,1000,950,800,650,560,480,420,360,310,
  270,230,200,185,170,150,135,120,105,95,85,75,65,60,50,45,40,35,30,28,
  25,20,18,15,12,8,5,3,2,1];
var histD = [15,25,35,60,170,1050,1990,1960,1900,1620,1600,1580,1300,1200,1080,1000,920,860,800,720,
  650,600,540,480,430,390,350,310,290,260,230,210,190,175,160,150,140,135,130,125,
  120,118,115,112,110,105,100,98,96,95];
var histE = [25,60,110,170,220,380,1400,1690,1600,1500,1420,1350,1230,1120,1000,900,780,680,560,440,
  330,220,160,100,60,35,20,12,6,3,2,1,0,0,0,0,0,0,0,0,
  0,0,0,0,0,0,0,0,0,0];
var histF = [40,120,250,450,600,870,2240,4550,5170,4300,4250,3180,3100,2180,1560,1180,810,560,380,190,
  100,40,15,5,2,0,0,0,0,0,0,0,0,0,0,0,0,0,0,0,
  0,0,0,0,0,0,0,0,0,0];
var histTicks = [[0, 500, 1000], [0, 20000, 40000], [0, 1000, 2000], [0, 1000, 2000], [0, 1000], [0, 2000, 4000]];
var statMu = [0.011, 0.004, 0.005, 0.008, 0.007, 0.005];
var statSigma = [0.007, 0.004, 0.005, 0.007, 0.007, 0.005];

var allSeries = [seriesA, seriesB, seriesC, seriesD, seriesE, seriesF];
var allHists = [histA, histB, histC, histD, histE, histF];

// ---- layout ----
var width = 970, height = 929;
var mainLeft = 74, mainRight = 770;
var histLeft = 808.3, histRight = 954;
var rowTop0 = 26.7, rowStep = 151.5, rowH = 100;
var textColor = '#222';
var gridColor = '#c4c4c4';
var fontSize = 12.7;

var parseDay = d3.timeParse('%Y-%m-%d');
var parseMonth = d3.timeParse('%Y-%m');

var svg = d3.select('#chart').append('svg')
  .attr('width', width)
  .attr('height', height);

var x = d3.scaleTime()
  .domain([parseDay('2015-10-20'), parseDay('2020-03-11')])
  .range([mainLeft, mainRight]);

function styleAxis(g) {
  g.select('.domain').remove();
  g.selectAll('.tick line').attr('stroke', '#000').attr('stroke-width', 1);
  g.selectAll('.tick text').attr('fill', textColor).style('font-size', fontSize + 'px')
    .style('font-family', '"DejaVu Sans", sans-serif');
}

allSeries.forEach(function (series, i) {
  var top = rowTop0 + i * rowStep, bottom = top + rowH;
  var color = colors[i];
  var y = d3.scaleLinear().domain([-0.01, 0.07]).range([bottom, top]);

  // ---- time series panel ----
  var g = svg.append('g');
  var clipId = 'clip' + i;
  svg.append('clipPath').attr('id', clipId).append('rect')
    .attr('x', mainLeft).attr('y', top).attr('width', mainRight - mainLeft).attr('height', rowH);

  // grid
  g.append('g').selectAll('line').data(dateTicks).enter().append('line')
    .attr('x1', function (d) { return x(parseMonth(d)); })
    .attr('x2', function (d) { return x(parseMonth(d)); })
    .attr('y1', top).attr('y2', bottom)
    .attr('stroke', gridColor).attr('stroke-width', 1);
  g.append('g').selectAll('line').data(yTicks).enter().append('line')
    .attr('x1', mainLeft).attr('x2', mainRight)
    .attr('y1', function (d) { return y(d); })
    .attr('y2', function (d) { return y(d); })
    .attr('stroke', gridColor).attr('stroke-width', 1);

  // error bars + points
  var marks = g.append('g').attr('clip-path', 'url(#' + clipId + ')');
  marks.selectAll('line.err').data(series).enter().append('line')
    .attr('class', 'err')
    .attr('x1', function (d) { return x(parseDay(d[0])); })
    .attr('x2', function (d) { return x(parseDay(d[0])); })
    .attr('y1', function (d) { return y(d[1] - d[2]); })
    .attr('y2', function (d) { return y(d[1] + d[2]); })
    .attr('stroke', color).attr('stroke-width', 1).attr('stroke-opacity', 0.55);
  marks.selectAll('circle').data(series).enter().append('circle')
    .attr('cx', function (d) { return x(parseDay(d[0])); })
    .attr('cy', function (d) { return y(d[1]); })
    .attr('r', 2.6)
    .attr('fill', color);

  // axes
  g.append('g').attr('transform', 'translate(0,' + bottom + ')')
    .call(d3.axisBottom(x)
      .tickValues(dateTicks.map(parseMonth))
      .tickFormat(d3.timeFormat('%Y-%m'))
      .tickSize(4.4).tickPadding(3.5))
    .call(styleAxis);
  g.append('g').attr('transform', 'translate(' + mainLeft + ',0)')
    .call(d3.axisLeft(y).tickValues(yTicks).tickFormat(d3.format('.3f')).tickSize(4.4).tickPadding(3.5))
    .call(styleAxis);

  g.append('rect')
    .attr('x', mainLeft).attr('y', top)
    .attr('width', mainRight - mainLeft).attr('height', rowH)
    .attr('fill', 'none').attr('stroke', '#000').attr('stroke-width', 1);

  g.append('text')
    .attr('x', mainLeft).attr('y', top - 6)
    .attr('fill', textColor).style('font-size', '15px')
    .text(panelLabels[i]);

  g.append('text')
    .attr('transform', 'translate(20,' + (top + rowH / 2) + ') rotate(-90)')
    .attr('text-anchor', 'middle')
    .attr('fill', textColor).style('font-size', '14px').style('font-style', 'italic')
    .text('δ');

  // ---- histogram panel ----
  var counts = allHists[i];
  var xh = d3.scaleLinear().domain([0, d3.max(counts) * 1.05]).range([histLeft, histRight]);
  var h = svg.append('g');

  // stepped outline of the horizontal histogram, one point pair per bin
  var steps = [];
  counts.forEach(function (c, k) {
    steps.push([c, histBinStart + k * histBinWidth]);
    steps.push([c, histBinStart + (k + 1) * histBinWidth]);
  });
  var area = d3.area()
    .y(function (d) { return y(d[1]); })
    .x0(histLeft)
    .x1(function (d) { return xh(d[0]); });
  h.append('path')
    .datum(steps)
    .attr('d', area)
    .attr('fill', color);

  h.append('g').selectAll('line').data(histTicks[i]).enter().append('line')
    .attr('x1', function (d) { return xh(d); })
    .attr('x2', function (d) { return xh(d); })
    .attr('y1', top).attr('y2', bottom)
    .attr('stroke', gridColor).attr('stroke-width', 1);
  h.append('g').selectAll('line').data(yTicks).enter().append('line')
    .attr('x1', histLeft).attr('x2', histRight)
    .attr('y1', function (d) { return y(d); })
    .attr('y2', function (d) { return y(d); })
    .attr('stroke', gridColor).attr('stroke-width', 1);

  h.append('g').attr('transform', 'translate(0,' + bottom + ')')
    .call(d3.axisBottom(xh).tickValues(histTicks[i]).tickFormat(d3.format('d')).tickSize(4.4).tickPadding(3.5))
    .call(styleAxis);
  h.append('g').attr('transform', 'translate(' + histLeft + ',0)')
    .call(d3.axisLeft(y).tickValues(yTicks).tickFormat('').tickSize(4.4))
    .call(styleAxis);

  h.append('rect')
    .attr('x', histLeft).attr('y', top)
    .attr('width', histRight - histLeft).attr('height', rowH)
    .attr('fill', 'none').attr('stroke', '#000').attr('stroke-width', 1);

  h.append('text')
    .attr('x', (histLeft + histRight) / 2).attr('y', bottom + 38)
    .attr('text-anchor', 'middle')
    .attr('fill', textColor).style('font-size', fontSize + 'px')
    .text('N');

  // stats box
  var box = h.append('g');
  var boxRect = box.append('rect');
  var t = box.append('g');
  var l1 = t.append('text').attr('x', histRight - 11).attr('y', top + 15.5)
    .attr('text-anchor', 'end').attr('fill', textColor).style('font-size', fontSize + 'px');
  l1.append('tspan').style('font-style', 'italic').text('μ');
  l1.append('tspan').text(' = ' + d3.format('.3f')(statMu[i]));
  var l2 = t.append('text').attr('x', histRight - 11).attr('y', top + 30.1)
    .attr('text-anchor', 'end').attr('fill', textColor).style('font-size', fontSize + 'px');
  l2.append('tspan').style('font-style', 'italic').text('σ');
  l2.append('tspan').text(' = ' + d3.format('.3f')(statSigma[i]));
  var bb = t.node().getBBox();
  boxRect
    .attr('x', bb.x - 3.5).attr('y', top + 1.6)
    .attr('width', bb.width + 7).attr('height', 34.4)
    .attr('rx', 3).attr('ry', 3)
    .attr('fill', '#f5deb3').attr('fill-opacity', 0.5)
    .attr('stroke', '#000').attr('stroke-opacity', 0.5).attr('stroke-width', 1);
});
</script>
</body>
</html>
